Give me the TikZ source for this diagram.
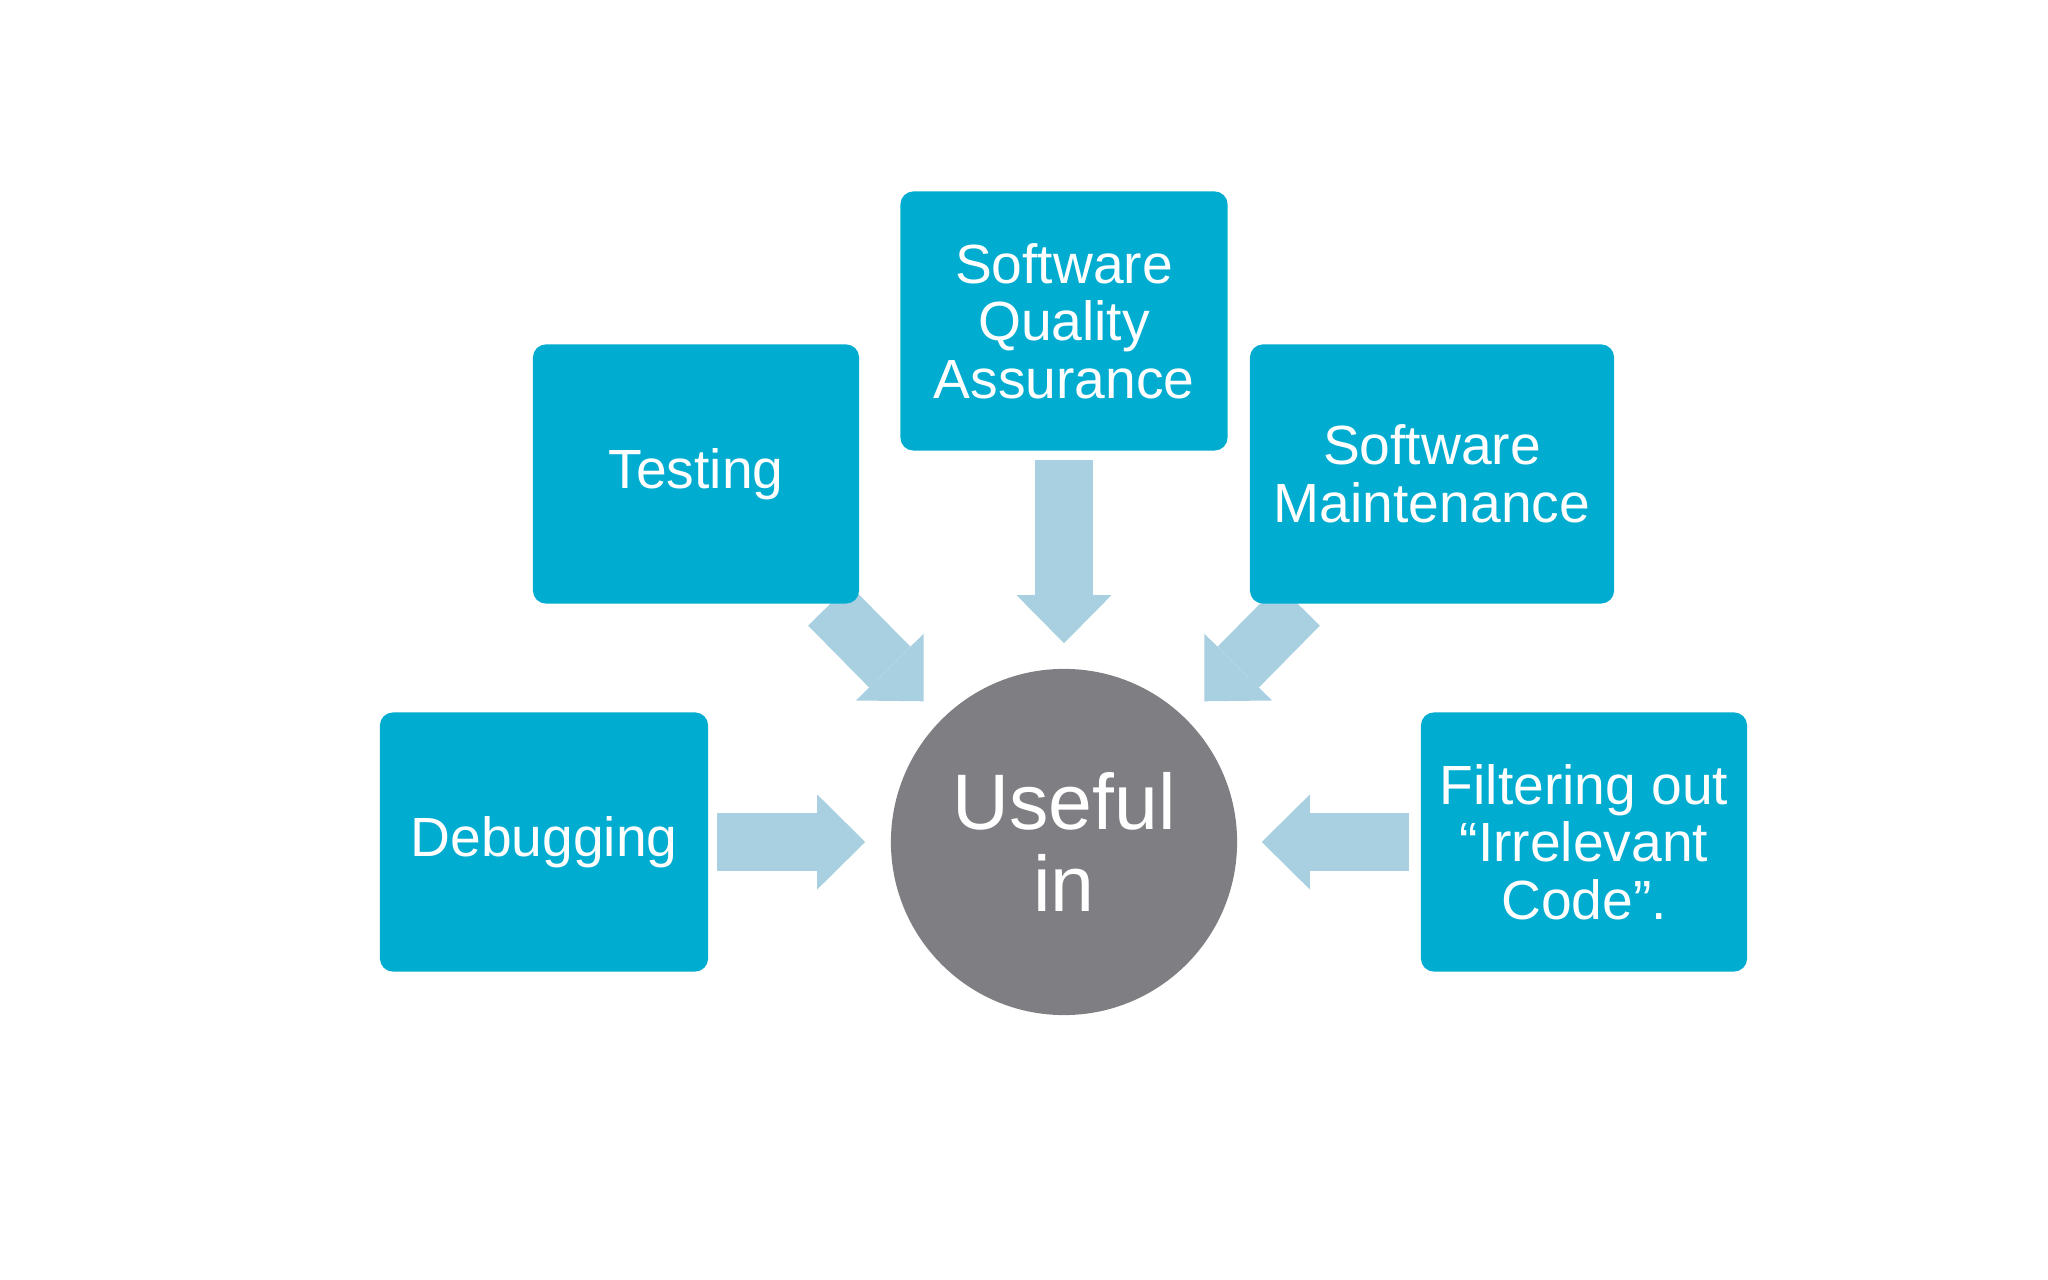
\documentclass[tikz,border=0pt]{standalone}
\usepackage{fontspec}
\setmainfont{Liberation Sans}
\usetikzlibrary{arrows.meta}
\definecolor{boxcyan}{RGB}{0,172,208}
\definecolor{arrowblue}{RGB}{168,208,224}
\definecolor{hubgrey}{RGB}{127,126,130}
\pgfdeclarelayer{background}
\pgfsetlayers{background,main}

\begin{document}
\begin{tikzpicture}[x=0.01cm, y=-0.01cm,
		topic/.style={rectangle, rounded corners=0.13cm, fill=boxcyan, text=white, align=center,
			inner sep=0pt, minimum height=2.59cm, font=\fontsize{15.7}{16.4}\selectfont},
		hub/.style={circle, fill=hubgrey, text=white, align=center, inner sep=0pt,
			minimum size=3.46cm, font=\fontsize{22.4}{23.3}\selectfont},
		flow/.style={draw=arrowblue, line width=0.58cm,
			-{Triangle[length=0.48cm, width=0.95cm, line width=0pt]}}]
		%%%%% START %%%%%
		\useasboundingbox (0, 0) rectangle (2048, 1280);
		
		\node[hub] (useful) at (1064, 842) {Useful\\in};
		
		\node[topic, minimum width=3.27cm] (sqa) at (1064, 321) {Software\\Quality\\Assurance};
		\node[topic, minimum width=3.26cm] (testing) at (696, 474) {Testing};
		\node[topic, minimum width=3.64cm] (maint) at (1432, 474) {Software\\Maintenance};
		\node[topic, minimum width=3.28cm] (debug) at (544, 842) {Debugging};
		\node[topic, minimum width=3.26cm] (filter) at (1584, 842) {Filtering out\\“Irrelevant\\Code”.};
		
		\begin{pgfonlayer}{background}
		\draw[flow] ([yshift=-0.09cm]sqa.south) -- ([yshift=0.25cm]useful.north);
		\draw[flow, shorten >=0.25cm] ([shift={(-0.31cm,-0.01cm)}]testing.south east) -- (useful.135);
		\draw[flow, shorten >=0.25cm] ([shift={(0.5cm,-0.01cm)}]maint.south west) -- (useful.45);
		\draw[flow] ([xshift=0.08cm]debug.east) -- ([xshift=-0.25cm]useful.west);
		\draw[flow] ([xshift=-0.11cm]filter.west) -- ([xshift=0.24cm]useful.east);
		\end{pgfonlayer}
		
		%%%%% END %%%%%
	\end{tikzpicture}
\end{document}
